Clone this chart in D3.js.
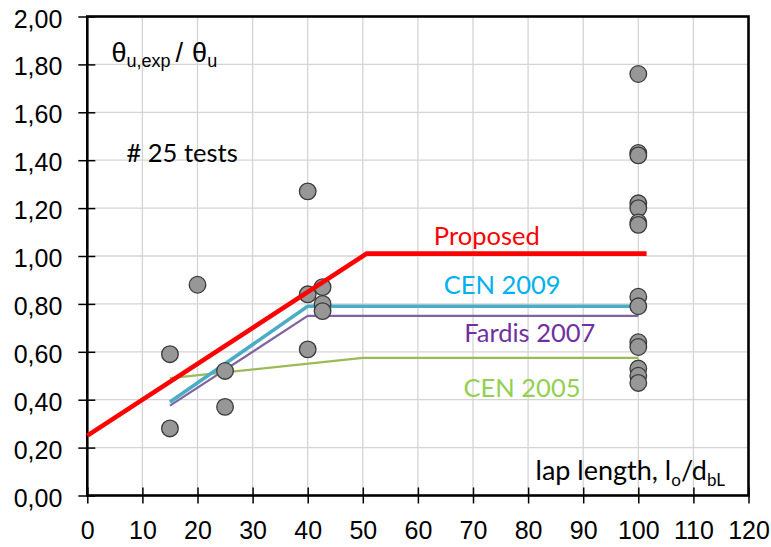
<!DOCTYPE html>
<html>
<head>
<meta charset="utf-8">
<script src="https://cdn.jsdelivr.net/npm/d3@7"></script>
<style>
  body { margin: 0; background: #fff; }
  svg { display: block; }
</style>
</head>
<body>
<div id="chart"></div>
<script>
// test results: lap length lo/dbL vs theta_u,exp / theta_u
const testX = [15, 15, 20, 25, 25, 40, 40, 40, 42.7, 42.7, 42.7,
  100, 100, 100, 100, 100, 100, 100, 100, 100, 100, 100, 100, 100, 100];
const testY = [0.59, 0.28, 0.88, 0.52, 0.37, 1.27, 0.84, 0.61, 0.87, 0.80, 0.77,
  1.76, 1.43, 1.42, 1.22, 1.20, 1.14, 1.13, 0.83, 0.79, 0.64, 0.62, 0.53, 0.50, 0.47];

// model curves
const proposedX = [0, 50.7, 101.5];
const proposedY = [0.25, 1.01, 1.01];
const cen2009X = [15, 40, 100];
const cen2009Y = [0.39, 0.79, 0.79];
const fardisX = [15, 40, 100];
const fardisY = [0.375, 0.75, 0.75];
const cen2005X = [15, 50, 100];
const cen2005Y = [0.49, 0.575, 0.575];

const xTicks = [0, 10, 20, 30, 40, 50, 60, 70, 80, 90, 100, 110, 120];
const yTicks = [0, 0.2, 0.4, 0.6, 0.8, 1.0, 1.2, 1.4, 1.6, 1.8, 2.0];

const width = 771, height = 547;
const plotL = 87.3, plotR = 748.5, plotT = 16.5, plotB = 495.5;

const svg = d3.select("#chart").append("svg")
  .attr("width", width)
  .attr("height", height);

svg.append("rect").attr("width", width).attr("height", height).attr("fill", "#fff");

const x = d3.scaleLinear().domain([0, 120]).range([plotL, plotR]);
const y = d3.scaleLinear().domain([0, 2]).range([plotB, plotT]);

const fmt = v => v.toFixed(2).replace(".", ",");
const axisFont = "'Liberation Sans', Arial, sans-serif";
const labelFont = "Lato, 'Open Sans', sans-serif";

// gridlines
svg.append("g").selectAll("line")
  .data(xTicks.slice(1, -1))
  .join("line")
  .attr("x1", d => x(d)).attr("x2", d => x(d))
  .attr("y1", plotT).attr("y2", plotB)
  .attr("stroke", "#d4d4d4").attr("stroke-width", 1.3);

svg.append("g").selectAll("line")
  .data(yTicks.slice(1, -1))
  .join("line")
  .attr("x1", plotL).attr("x2", plotR)
  .attr("y1", d => y(d)).attr("y2", d => y(d))
  .attr("stroke", "#d4d4d4").attr("stroke-width", 1.3);

// axes
const yAxis = svg.append("g")
  .attr("transform", `translate(${plotL},0)`)
  .call(d3.axisLeft(y).tickValues(yTicks).tickSize(9).tickPadding(16).tickFormat(fmt));
yAxis.select(".domain").remove();
yAxis.selectAll(".tick line").attr("x1", 8).attr("stroke", "#000").attr("stroke-width", 1.5);
yAxis.selectAll(".tick text")
  .attr("font-family", axisFont).attr("font-size", 25).attr("fill", "#000")
  .attr("dy", "0.42em");

const xAxis = svg.append("g")
  .attr("transform", `translate(0,${plotB})`)
  .call(d3.axisBottom(x).tickValues(xTicks).tickSize(8).tickPadding(20).tickFormat(d3.format("d")));
xAxis.select(".domain").remove();
xAxis.selectAll(".tick line").attr("y1", -8).attr("stroke", "#000").attr("stroke-width", 1.5);
xAxis.selectAll(".tick text")
  .attr("font-family", axisFont).attr("font-size", 25).attr("fill", "#000")
  .attr("dy", "0.6em");

// frame
svg.append("rect")
  .attr("x", plotL).attr("y", plotT)
  .attr("width", plotR - plotL).attr("height", plotB - plotT)
  .attr("fill", "none").attr("stroke", "#000").attr("stroke-width", 2.6);

const line = d3.line().x(d => x(d[0])).y(d => y(d[1]));
const pts = (xs, ys) => xs.map((v, i) => [v, ys[i]]);

function drawLine(xs, ys, color, w) {
  svg.append("path")
    .datum(pts(xs, ys))
    .attr("d", line)
    .attr("fill", "none")
    .attr("stroke", color)
    .attr("stroke-width", w)
    .attr("stroke-linejoin", "miter");
}

drawLine(cen2005X, cen2005Y, "#9bbb59", 2.2);
drawLine(fardisX, fardisY, "#8064a2", 2.2);
drawLine(cen2009X, cen2009Y, "#4bacc6", 3.6);

// test points
svg.append("g").selectAll("circle")
  .data(pts(testX, testY))
  .join("circle")
  .attr("cx", d => x(d[0]))
  .attr("cy", d => y(d[1]))
  .attr("r", 8.3)
  .attr("fill", "#979797")
  .attr("stroke", "#3a3a3a")
  .attr("stroke-width", 1.3);

drawLine(proposedX, proposedY, "#ff0000", 4.6);

// curve labels
const labels = [
  { text: "Proposed", color: "#ff0000", x: 72.5, y: 1.046 },
  { text: "CEN 2009", color: "#00b0f0", x: 75.3, y: 0.84 },
  { text: "Fardis 2007", color: "#7030a0", x: 80.3, y: 0.64 },
  { text: "CEN 2005", color: "#92d050", x: 78.9, y: 0.41 }
];
svg.append("g").selectAll("text")
  .data(labels)
  .join("text")
  .attr("x", d => x(d.x))
  .attr("y", d => y(d.y))
  .attr("text-anchor", "middle")
  .attr("font-family", labelFont)
  .attr("font-size", 25.5)
  .attr("fill", d => d.color)
  .text(d => d.text);

// y title
const yt = svg.append("text")
  .attr("x", 111.5).attr("y", 61.5)
  .attr("font-family", axisFont).attr("font-size", 27).attr("fill", "#000");
yt.append("tspan").text("θ");
yt.append("tspan").attr("font-size", 18).attr("dy", 5).text("u,exp");
yt.append("tspan").attr("dy", -5).attr("dx", 5).text("/");
yt.append("tspan").attr("dx", 9).text("θ");
yt.append("tspan").attr("font-size", 18).attr("dy", 5).text("u");

svg.append("text")
  .attr("x", 126.5).attr("y", 162.3)
  .attr("font-family", labelFont).attr("font-size", 25.5).attr("fill", "#000")
  .text("# 25 tests");

// x title
const xt = svg.append("text")
  .attr("x", 725).attr("y", 480)
  .attr("text-anchor", "end")
  .attr("font-family", labelFont).attr("font-size", 27).attr("fill", "#000");
xt.append("tspan").text("lap length, l");
xt.append("tspan").attr("font-size", 17).attr("dy", 6).text("o");
xt.append("tspan").attr("dy", -6).text("/d");
xt.append("tspan").attr("font-size", 17).attr("dy", 6).text("bL");
</script>
</body>
</html>
